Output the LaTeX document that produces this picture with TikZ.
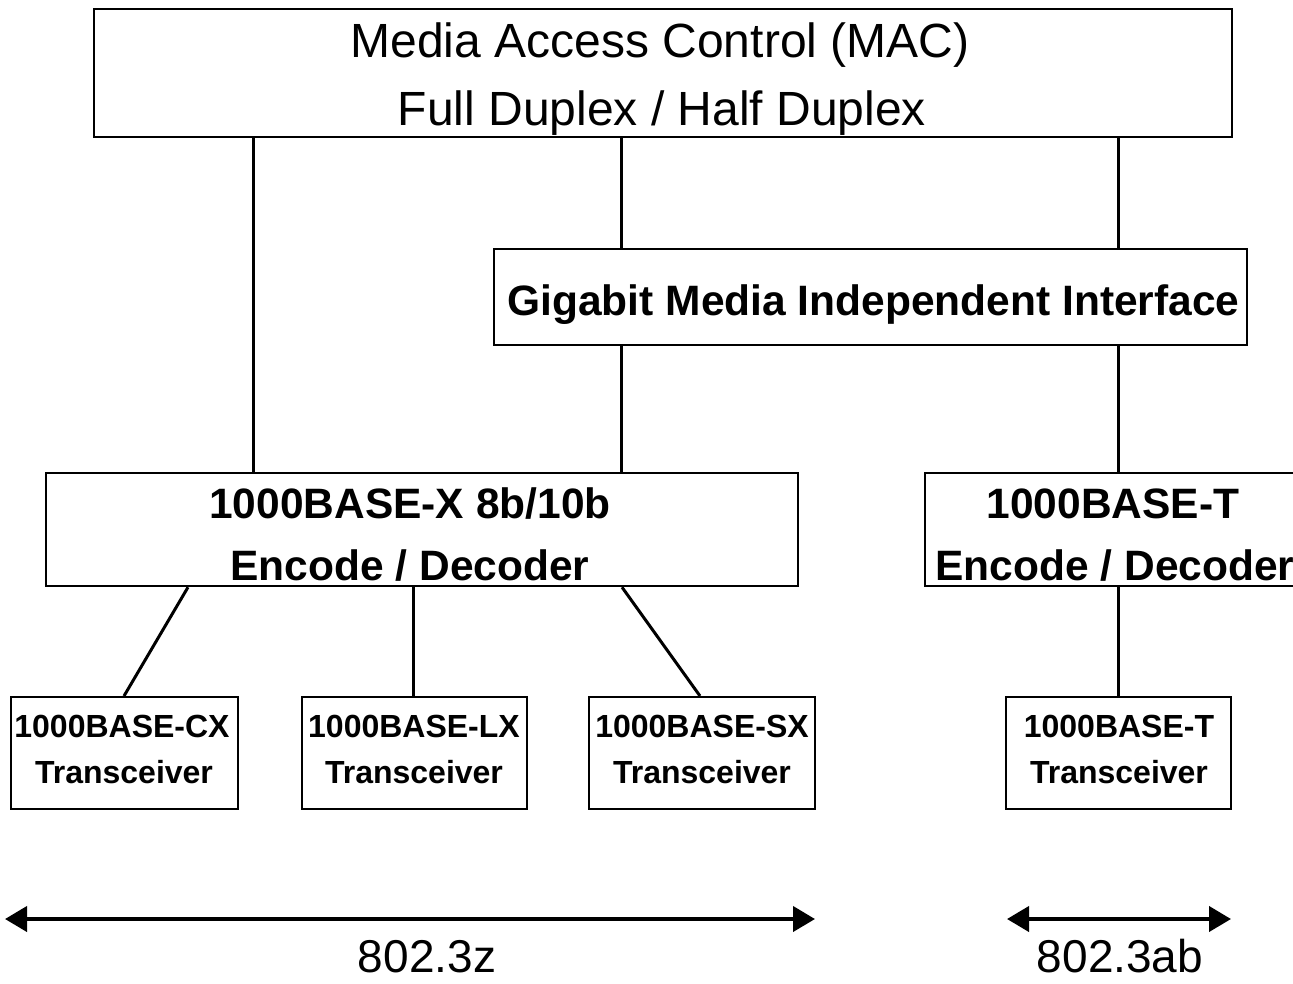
\documentclass[tikz,border=0pt]{standalone}
\usepackage{fontspec}
\setmainfont{Liberation Sans}
\usetikzlibrary{arrows.meta}
\begin{document}
\begin{tikzpicture}[x=1pt,y=-1pt,
  box/.style={draw, line width=2.2pt, inner sep=0pt, anchor=north west},
  link/.style={line width=3pt},
  span/.style={line width=4pt, {Triangle[length=22pt,width=25pt]}-{Triangle[length=22pt,width=25pt]}},
  big/.style={anchor=base, inner sep=0pt, font=\fontsize{48}{56}\selectfont},
  mid/.style={anchor=base, inner sep=0pt, font=\fontsize{42.5}{50}\selectfont\bfseries},
  small/.style={anchor=base, inner sep=0pt, font=\fontsize{32}{37}\selectfont\bfseries},
  tag/.style={anchor=base, inner sep=0pt, font=\fontsize{46}{54}\selectfont}]
\useasboundingbox (0,0) rectangle (1293,983);
\clip (0,0) rectangle (1293,983);

% layer boxes
\node[box, minimum width=1138pt, minimum height=128pt] (mac) at (93,8) {};
\node[box, minimum width=753pt, minimum height=96pt] (gmii) at (493,248) {};
\node[box, minimum width=752pt, minimum height=113pt] (xenc) at (45,472) {};
\node[box, minimum width=390pt, minimum height=113pt] (tenc) at (924,472) {};

% transceivers
\node[box, minimum width=227pt, minimum height=112pt] (cx) at (10,696) {};
\node[box, minimum width=225pt, minimum height=112pt] (lx) at (301,696) {};
\node[box, minimum width=226pt, minimum height=112pt] (sx) at (588,696) {};
\node[box, minimum width=225pt, minimum height=112pt] (tx) at (1005,696) {};

% labels
\node[big] (macA) at (660,57) {Media Access Control (MAC)};
\node[big] (macB) at (662,125) {Full Duplex / Half Duplex};
\node[mid] (gmiiA) at (873.5,315) {Gigabit Media Independent Interface};
\node[mid] (xencA) at (410,518) {1000BASE-X 8b/10b};
\node[mid] (xencB) at (410,580) {Encode / Decoder};
\node[mid] (tencA) at (1113,518) {1000BASE-T};
\node[mid] (tencB) at (1115,580) {Encode / Decoder};
\node[small] (cxA) at (122,737) {1000BASE-CX};
\node[small] (cxB) at (124,783) {Transceiver};
\node[small] (lxA) at (414,737) {1000BASE-LX};
\node[small] (lxB) at (414,783) {Transceiver};
\node[small] (sxA) at (702,737) {1000BASE-SX};
\node[small] (sxB) at (702,783) {Transceiver};
\node[small] (txA) at (1119,737) {1000BASE-T};
\node[small] (txB) at (1119,783) {Transceiver};

% connectors between layers
\draw[link] ([xshift=160pt]mac.south west) -- ([xshift=208pt]xenc.north west);
\draw[link] ([xshift=528pt]mac.south west) -- ([xshift=128pt]gmii.north west);
\draw[link] ([xshift=1025pt]mac.south west) -- ([xshift=625pt]gmii.north west);
\draw[link] ([xshift=128pt]gmii.south west) -- ([xshift=576pt]xenc.north west);
\draw[link] ([xshift=625pt]gmii.south west) -- ([xshift=194pt]tenc.north west);
\draw[link] ([xshift=143pt]xenc.south west) -- ([xshift=114pt]cx.north west);
\draw[link] ([xshift=368pt]xenc.south west) -- ([xshift=112pt]lx.north west);
\draw[link] ([xshift=577pt]xenc.south west) -- ([xshift=112pt]sx.north west);
\draw[link] ([xshift=194pt]tenc.south west) -- ([xshift=113pt]tx.north west);

% standard spans
\coordinate (zL) at (5,919);
\coordinate (zR) at (815,919);
\coordinate (abL) at (1007,919);
\coordinate (abR) at (1231,919);
\draw[span] (zL) -- (zR);
\draw[span] (abL) -- (abR);
\node[tag] (zT) at (427,972) {802.3z};
\node[tag] (abT) at (1120,972) {802.3ab};
\end{tikzpicture}
\end{document}
